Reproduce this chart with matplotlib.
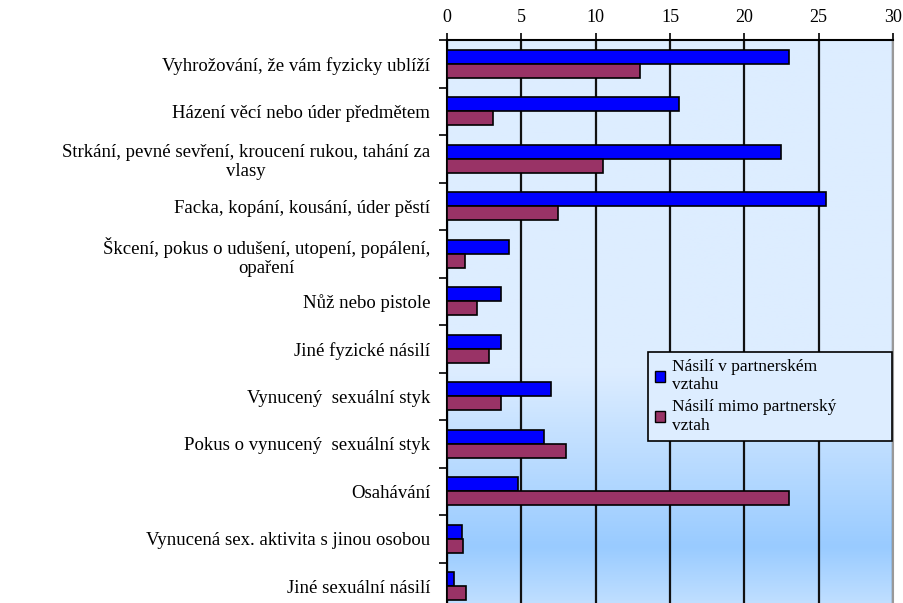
import numpy as np
import matplotlib
matplotlib.use("Agg")
import matplotlib.pyplot as plt
from matplotlib.colors import LinearSegmentedColormap
from matplotlib.patches import Patch

plt.rcParams["font.family"] = ["Liberation Serif", "DejaVu Serif"]

# data (percent)
categories = [
    "Vyhrožování, že vám fyzicky ublíží",
    "Házení věcí nebo úder předmětem",
    "Strkání, pevné sevření, kroucení rukou, tahání za\nvlasy",
    "Facka, kopání, kousání, úder pěstí",
    "Škcení, pokus o udušení, utopení, popálení,\nopaření",
    "Nůž nebo pistole",
    "Jiné fyzické násilí",
    "Vynucený  sexuální styk",
    "Pokus o vynucený  sexuální styk",
    "Osahávání",
    "Vynucená sex. aktivita s jinou osobou",
    "Jiné sexuální násilí",
]
partner = [23.0, 15.6, 22.5, 25.5, 4.2, 3.6, 3.6, 7.0, 6.5, 4.8, 1.0, 0.5]
non_partner = [13.0, 3.1, 10.5, 7.5, 1.2, 2.0, 2.8, 3.6, 8.0, 23.0, 1.1, 1.3]
series_names = ["Násilí v partnerském\nvztahu", "Násilí mimo partnerský\nvztah"]
x_ticks = [0, 5, 10, 15, 20, 25, 30]

blue = "#0000ff"
purple = "#993366"

fig = plt.figure(figsize=(9.04, 6.03), dpi=100)
ax = fig.add_axes([447 / 904, 1 - 610 / 603, 446 / 904, 570 / 603])

# background gradient of the plot area
bg = LinearSegmentedColormap.from_list(
    "bg", [(0.0, "#ddedff"), (0.58, "#ddedff"), (0.89, "#99cbff"), (1.0, "#c4e1ff")])
grad = np.linspace(0, 1, 256).reshape(-1, 1)
ax.imshow(grad, cmap=bg, aspect="auto", extent=[0, 1, 0, 1],
          transform=ax.transAxes, zorder=0)

y = np.arange(len(categories))
h = 0.29
ax.barh(y - h / 2, partner, height=h, color=blue, edgecolor="black", linewidth=1.2, zorder=3)
ax.barh(y + h / 2, non_partner, height=h, color=purple, edgecolor="black", linewidth=1.2, zorder=3)

ax.set_xlim(0, 30)
ax.set_ylim(len(categories) - 0.5, -0.5)

ax.xaxis.tick_top()
ax.set_xticks(x_ticks)
ax.set_xticklabels([str(t) for t in x_ticks], fontsize=13)
ax.tick_params(axis="x", direction="out", length=5, width=1.2, pad=5)
ax.grid(axis="x", color="#111111", linewidth=1.6, zorder=1)
ax.set_axisbelow(True)

ax.set_yticks(y)
ax.set_yticklabels(categories, fontsize=13.5)
for lab in ax.get_yticklabels():
    lab.set_multialignment("center")
ax.tick_params(axis="y", which="major", length=0, pad=12)
ax.set_yticks(np.arange(len(categories) + 1) - 0.5, minor=True)
ax.tick_params(axis="y", which="minor", direction="out", length=6, width=1.2)

for side in ["left", "top"]:
    ax.spines[side].set_color("black")
    ax.spines[side].set_linewidth(1.5)
ax.spines["right"].set_color("#999999")
ax.spines["right"].set_linewidth(1.5)
ax.spines["bottom"].set_visible(False)

handles = [Patch(facecolor=blue, edgecolor="black"),
           Patch(facecolor=purple, edgecolor="black")]
x0 = (648 - 447) / 446
y1 = (610 - 352) / 570
leg = ax.legend(handles, series_names, loc="upper left",
                bbox_to_anchor=(x0, y1 - 0.2, (892 - 648) / 446, 0.2), mode="expand",
                fontsize=12.5, frameon=True, fancybox=False,
                handlelength=0.6, handleheight=0.6, handletextpad=0.4,
                labelspacing=0.35, borderpad=0.4, borderaxespad=0)
leg.get_frame().set_facecolor("#ddedff")
leg.get_frame().set_edgecolor("black")
leg.get_frame().set_linewidth(1.2)
leg.get_frame().set_alpha(1)
leg.set_zorder(5)

fig.savefig("out.png", dpi=100)
